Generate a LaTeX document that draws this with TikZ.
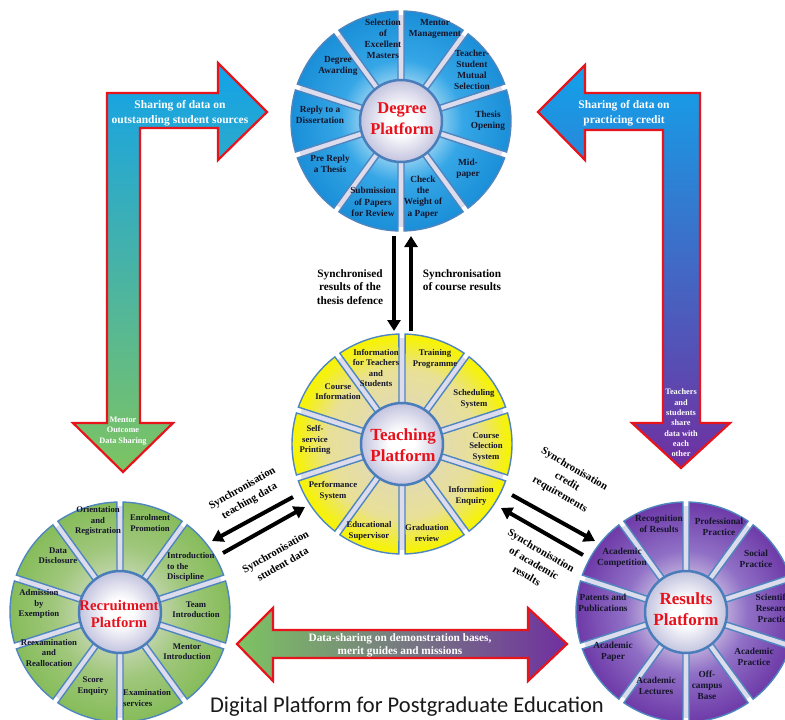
\documentclass[tikz,border=0pt]{standalone}
\usepackage{fontspec}
\setmainfont{Liberation Serif}
\newfontfamily\titlefont{Carlito}
\usetikzlibrary{arrows.meta}

\definecolor{degIn}{HTML}{8ACDF1}
\definecolor{degMid}{HTML}{35A6E6}
\definecolor{degOut}{HTML}{1A8FD8}
\definecolor{teaIn}{HTML}{E3DBAE}
\definecolor{teaMid}{HTML}{E8E096}
\definecolor{teaOut}{HTML}{F6F20A}
\definecolor{recIn}{HTML}{BFD4A8}
\definecolor{recMid}{HTML}{A0C77C}
\definecolor{recOut}{HTML}{86BC5A}
\definecolor{resIn}{HTML}{BBA8DA}
\definecolor{resMid}{HTML}{9070C6}
\definecolor{resOut}{HTML}{6E3AA8}
\definecolor{segline}{HTML}{4F86C0}
\definecolor{gapcol}{HTML}{DCDCEC}
\definecolor{hubOut}{HTML}{C3C3DF}
\definecolor{hubline}{HTML}{4A7EBB}
\definecolor{hubred}{HTML}{E8101A}
\definecolor{arrred}{HTML}{E8141C}
\definecolor{arrBlue}{HTML}{12A2EA}
\definecolor{arrGreen}{HTML}{7DC462}
\definecolor{arrPurple}{HTML}{7030A0}
\definecolor{txtdark}{HTML}{15152A}

% radial shadings: 25bp corresponds to the path's half-width
\pgfdeclareradialshading{degshade}{\pgfpoint{0bp}{0bp}}{color(0bp)=(degIn); color(9bp)=(degIn); color(14bp)=(degMid); color(25bp)=(degOut); color(50bp)=(degOut)}
\pgfdeclareradialshading{teashade}{\pgfpoint{0bp}{0bp}}{color(0bp)=(teaIn); color(9bp)=(teaIn); color(17bp)=(teaMid); color(24bp)=(teaOut); color(50bp)=(teaOut)}
\pgfdeclareradialshading{recshade}{\pgfpoint{0bp}{0bp}}{color(0bp)=(recIn); color(9bp)=(recIn); color(15bp)=(recMid); color(25bp)=(recOut); color(50bp)=(recOut)}
\pgfdeclareradialshading{resshade}{\pgfpoint{0bp}{0bp}}{color(0bp)=(resIn); color(9bp)=(resIn); color(14bp)=(resMid); color(25bp)=(resOut); color(50bp)=(resOut)}
\pgfdeclareradialshading{hubshade}{\pgfpoint{0bp}{0bp}}{color(0bp)=(white); color(8bp)=(white); color(25bp)=(hubOut); color(50bp)=(hubOut)}

\newcommand\drawwheel[3]{%
 \begin{scope}[shift={(#1,#2)}]
  \fill[gapcol] (0,0) circle[radius=106];
  \begin{scope}
   \clip foreach \a in {0,36,...,324} {({\a-16.4}:110) arc[start angle=\a-16.4, end angle=\a+16.4, radius=110] -- ({\a+13.5}:38) arc[start angle=\a+13.5, end angle=\a-13.5, radius=38] -- cycle};
   \shade[shading=#3] (0,0) circle[radius=110];
  \end{scope}
  \draw[segline, line width=1.4pt] foreach \a in {0,36,...,324} {({\a-16.4}:110) arc[start angle=\a-16.4, end angle=\a+16.4, radius=110] -- ({\a+13.5}:38) arc[start angle=\a+13.5, end angle=\a-13.5, radius=38] -- cycle};
  \shade[shading=hubshade, draw=hubline, line width=2.5pt] (0,0) circle[radius=41];
 \end{scope}}

\tikzset{
  seg/.style={font=\fontsize{9.3}{11.2}\selectfont\bfseries, align=center, inner sep=0pt, text=txtdark},
  segS/.style={font=\fontsize{8.7}{10.3}\selectfont\bfseries, align=center, inner sep=0pt, text=txtdark},
  hub/.style={font=\fontsize{16.5}{21}\selectfont\bfseries, align=center, inner sep=0pt, text=hubred},
  arrtxt/.style={text=white, font=\fontsize{11.5}{14.5}\selectfont\bfseries, align=center, inner sep=0pt},
  arrsmall/.style={text=white, font=\fontsize{8.3}{10.6}\selectfont\bfseries, align=center, inner sep=0pt},
  lbl/.style={font=\fontsize{11.3}{13.3}\selectfont\bfseries, align=center, inner sep=0pt, text=black},
  dlbl/.style={font=\fontsize{10.8}{14.5}\selectfont\bfseries, align=center, inner sep=0pt, text=black},
  bigarrow/.style={draw=arrred, line width=2.2pt, line join=miter},
  blk/.style={line width=4pt, black, -{Triangle[length=11pt, width=13pt]}}
}

\begin{document}
\begin{tikzpicture}[x=1pt, y=-1pt]
\useasboundingbox (0,0) rectangle (785,720);
\fill[white] (0,0) rectangle (785,720);

% big shaded arrows
\shade[bigarrow, top color=arrBlue, bottom color=arrGreen]
  (107,93) -- (218,93) -- (218,63) -- (267,112) -- (218,160) -- (218,128) -- (140,128)
  -- (140,423) -- (173,423) -- (123,472) -- (73,423) -- (107,423) -- cycle;
\shade[bigarrow, top color=arrBlue, bottom color=arrPurple]
  (700,93) -- (585,93) -- (585,65) -- (538,112) -- (585,160) -- (585,130) -- (663,130)
  -- (663,423) -- (632,423) -- (681,468) -- (730,423) -- (700,423) -- cycle;
\shade[bigarrow, left color=arrGreen, right color=arrPurple]
  (237,644) -- (273,608) -- (273,630) -- (528,630) -- (528,608) -- (567,644)
  -- (528,681) -- (528,658) -- (273,658) -- (273,681) -- cycle;

\node[arrtxt] (a1) at (180,113) {Sharing of data on\\outstanding student sources};
\node[arrtxt] (a2) at (624,113) {Sharing of data on\\practicing credit};
\node[arrsmall] (a3) at (123,431) {Mentor\\Outcome\\Data Sharing};
\node[arrsmall, font=\fontsize{8.3}{10.3}\selectfont\bfseries] (a4) at (681,423) {Teachers\\and\\students\\share\\data with\\each\\other};
\node[arrtxt, font=\fontsize{11.3}{13.3}\selectfont\bfseries] (a5) at (400,645) {Data-sharing on demonstration bases,\\merit guides and missions};

% wheels
\drawwheel{401}{121}{degshade}
\drawwheel{402}{444}{teashade}
\drawwheel{120}{612}{recshade}
\drawwheel{686}{612}{resshade}

% degree platform
\node[hub] (deg) at (402,119) {Degree\\Platform};
\node[seg] (d1) at (383,39) {Selection\\of\\Excellent\\Masters};
\node[seg] (d2) at (435,29) {Mentor\\Management};
\node[seg] (d3) at (472,70) {Teacher-\\Student\\Mutual\\Selection};
\node[seg] (d4) at (488,121) {Thesis\\Opening};
\node[seg] (d5) at (468,169) {Mid-\\paper};
\node[seg] (d6) at (423,197) {Check\\the\\Weight of\\a Paper};
\node[seg] (d7) at (373,202) {Submission\\of Papers\\for Review};
\node[seg] (d8) at (330,164) {Pre Reply\\a Thesis};
\node[seg] (d9) at (320,115) {Reply to a\\Dissertation};
\node[seg] (d10) at (338,66) {Degree\\Awarding};

% teaching platform
\node[hub, font=\fontsize{17}{21}\selectfont\bfseries] (tea) at (403,445) {Teaching\\Platform};
\node[segS] (t1) at (376,368) {Information\\for Teachers\\and\\Students};
\node[segS] (t2) at (435,359) {Training\\Programme};
\node[segS] (t3) at (474,399) {Scheduling\\System};
\node[segS] (t4) at (486,447) {Course\\Selection\\System};
\node[segS] (t5) at (471,496) {Information\\Enquiry};
\node[segS] (t6) at (427,533) {Graduation\\review};
\node[segS] (t7) at (369,531) {Educational\\Supervisor};
\node[segS] (t8) at (333,491) {Performance\\System};
\node[segS] (t9) at (315,440) {Self-\\service\\Printing};
\node[segS] (t10) at (338,392) {Course\\Information};

% recruitment platform
\node[hub, font=\fontsize{14.7}{17.5}\selectfont\bfseries] (rec) at (119,614) {Recruitment\\Platform};
\node[segS] (r1) at (98,521) {Orientation\\and\\Registration};
\node[segS] (r2) at (150,523) {Enrolment\\Promotion};
\node[segS, align=left, anchor=west] (r3) at (167,567) {Introduction\\to the\\Discipline};
\node[segS] (r4) at (196,610) {Team\\Introduction};
\node[segS] (r5) at (187,652) {Mentor\\Introduction};
\node[segS, align=left, anchor=west] (r6) at (123,698) {Examination\\services};
\node[segS] (r7) at (93,686) {Score\\Enquiry};
\node[segS] (r8) at (49,653) {Reexamination\\and\\Reallocation};
\node[segS] (r9) at (39,604) {Admission\\by\\Exemption};
\node[segS] (r10) at (58,556) {Data\\Disclosure};

% results platform
\node[hub, font=\fontsize{17}{21}\selectfont\bfseries] (res) at (686,609) {Results\\Platform};
\node[seg] (s1) at (659,524) {Recognition\\of Results};
\node[seg] (s2) at (719,527) {Professional\\Practice};
\node[seg] (s3) at (756,559) {Social\\Practice};
\node[seg] (s4) at (774,608) {Scientific\\Research\\Practice};
\node[seg] (s5) at (754,657) {Academic\\Practice};
\node[seg] (s6) at (707,685) {Off-\\campus\\Base};
\node[seg] (s7) at (656,686) {Academic\\Lectures};
\node[seg] (s8) at (613,652) {Academic\\Paper};
\node[seg] (s9) at (603,603) {Patents and\\Publications};
\node[seg] (s10) at (622,558) {Academic\\Competition};

% black synchronisation arrows
\coordinate (v1s) at (394,236);
\coordinate (v1e) at (394,331);
\coordinate (v2s) at (411,331);
\coordinate (v2e) at (411,236);
\draw[blk] (v1s) -- (v1e);
\draw[blk] (v2s) -- (v2e);
\node[lbl] (l1) at (350,287) {Synchronised\\results of the\\thesis defence};
\node[lbl] (l2) at (462,280) {Synchronisation\\of course results};

\coordinate (p1s) at (293,497);
\coordinate (p1e) at (212,541);
\coordinate (p2s) at (223,553);
\coordinate (p2e) at (305,507);
\draw[blk] (p1s) -- (p1e);
\draw[blk] (p2s) -- (p2e);
\node[dlbl, rotate=30] (l3) at (246,495) {Synchronisation\\teaching data};
\node[dlbl, rotate=30] (l4) at (279,558) {Synchronisation\\student data};

\coordinate (q1s) at (512,495);
\coordinate (q1e) at (595,541);
\coordinate (q2s) at (583,555);
\coordinate (q2e) at (501,508);
\draw[blk] (q1s) -- (q1e);
\draw[blk] (q2s) -- (q2e);
\node[dlbl, rotate=-30] (l5) at (567,482) {Synchronisation\\credit\\requirements};
\node[dlbl, rotate=-30] (l6) at (534,563) {Synchronisation\\of academic\\results};

\node[font=\titlefont\fontsize{22.5}{27}\selectfont, text=black!90, inner sep=0pt] (title) at (407,707) {Digital Platform for Postgraduate Education};
\end{tikzpicture}
\end{document}
